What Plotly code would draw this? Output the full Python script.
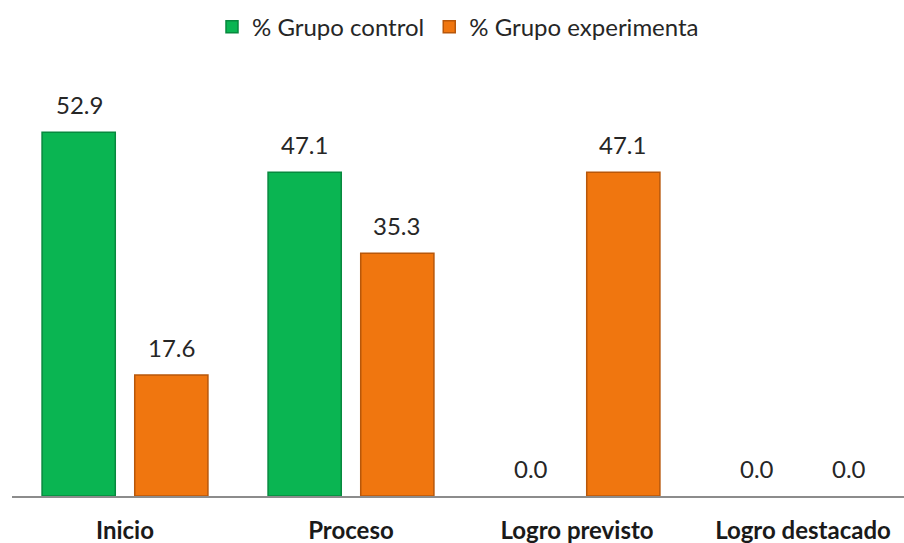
import plotly.graph_objects as go

categories = ["Inicio", "Proceso", "Logro previsto", "Logro destacado"]
control = [52.9, 47.1, 0.0, 0.0]
experimental = [17.6, 35.3, 47.1, 0.0]
series_names = ["% Grupo control", "% Grupo experimenta"]

GREEN = "#0AB552"
GREEN_EDGE = "#07893E"
ORANGE = "#F0760F"
ORANGE_EDGE = "#B8570A"
FONT = "Lato"


def edge_widths(vals):
    return [1.5 if v > 0 else 0 for v in vals]


fig = go.Figure()
fig.add_trace(go.Bar(x=categories, y=control, name=series_names[0],
                     marker=dict(color=GREEN, line=dict(color=GREEN_EDGE, width=edge_widths(control)))))
fig.add_trace(go.Bar(x=categories, y=experimental, name=series_names[1],
                     marker=dict(color=ORANGE, line=dict(color=ORANGE_EDGE, width=edge_widths(experimental)))))

offset = 46
for vals, shift in ((control, -offset), (experimental, offset)):
    for c, v in zip(categories, vals):
        fig.add_annotation(x=c, y=v, text=f"{v:.1f}", showarrow=False,
                           xshift=shift, yshift=11, yanchor="bottom",
                           font=dict(family=FONT, size=24, color="#262626"))

fig.update_layout(
    width=904, height=543,
    margin=dict(l=12, r=0, t=80, b=47),
    paper_bgcolor="white", plot_bgcolor="white",
    barmode="group", bargap=0.18, bargroupgap=0.21,
    font=dict(family=FONT, color="#262626"),
    legend=dict(orientation="h", x=0.5, xanchor="center", y=1.127, yanchor="middle",
                font=dict(size=24, color="#262626"), itemwidth=30, traceorder="normal"),
    xaxis=dict(range=[-0.5, 3.447], showline=True, linecolor="#8C8C8C", linewidth=2,
               tickfont=dict(family=FONT, size=24, color="#1a1a1a", weight="bold"),
               ticks="", ticklabelstandoff=12, showgrid=False),
    yaxis=dict(range=[0, 60.5], visible=False, showgrid=False),
)

fig.write_html("out.html")
